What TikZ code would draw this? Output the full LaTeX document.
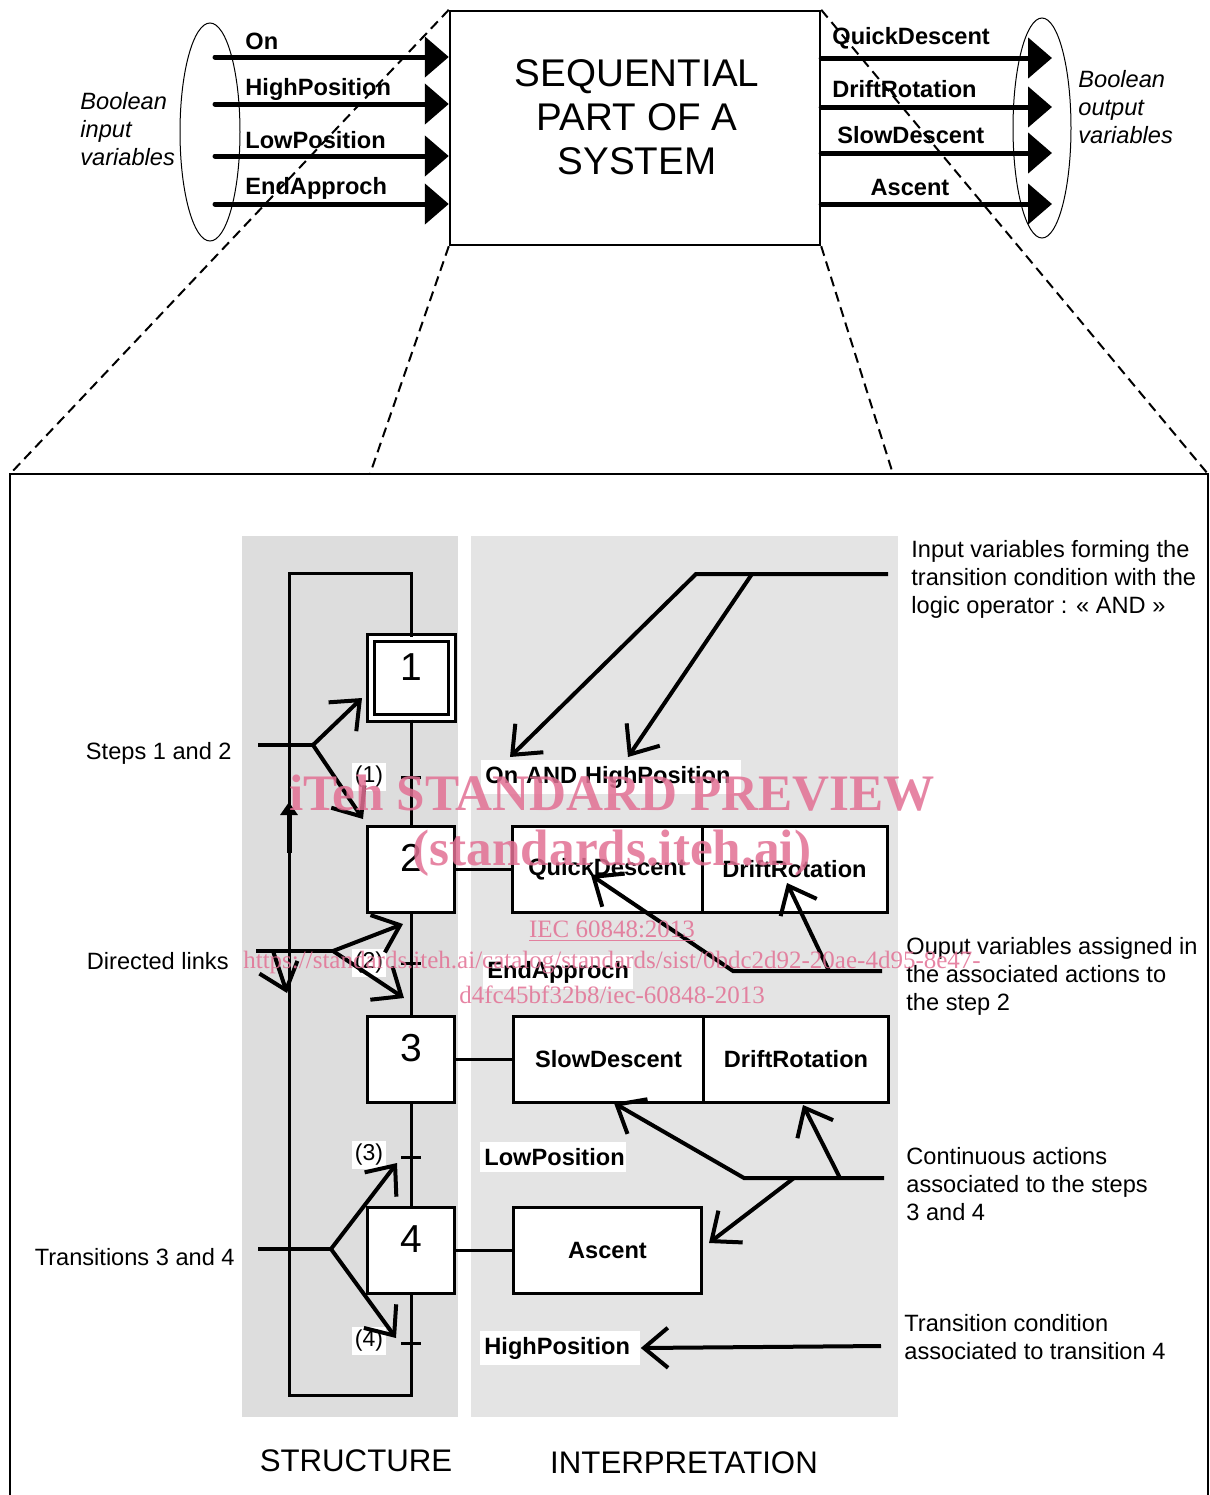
\documentclass[tikz,border=0pt]{standalone}
\usepackage{fontspec}
\setmainfont{Liberation Sans}
\newfontfamily\wmfont{Liberation Serif}
\usetikzlibrary{arrows.meta}
\definecolor{structgray}{RGB}{221,221,221}
\definecolor{interpgray}{RGB}{228,228,228}
\definecolor{wmpink}{RGB}{226,112,148}

\begin{document}
\begin{tikzpicture}[x=0.5pt,y=-0.5pt]
\tikzset{
  txt/.style={font=\fontsize{11.8}{14}\selectfont,inner sep=0pt},
  itxt/.style={font=\fontsize{11.8}{14}\selectfont\itshape,inner sep=0pt,align=left},
  btxt/.style={font=\fontsize{11.8}{14}\selectfont\bfseries,inner sep=0pt},
  bigtxt/.style={font=\fontsize{15.6}{18}\selectfont,inner sep=0pt},
  sysbox/.style={draw,line width=1.2pt,minimum width=185pt,minimum height=117pt,inner sep=0pt},
  systext/.style={font=\fontsize{19.3}{22}\selectfont,align=center,inner sep=0pt},
  stepnode/.style={draw,fill=white,line width=1.5pt,minimum width=43.5pt,minimum height=43pt,
    inner sep=0pt,font=\fontsize{19.5}{22}\selectfont,text depth=11pt},
  initstep/.style={stepnode,double,double distance=2pt,minimum width=40.5pt,minimum height=40pt},
  actnode/.style={draw,fill=white,line width=1.5pt,minimum height=43pt,inner sep=0pt,
    font=\fontsize{11.8}{14}\selectfont\bfseries},
  cond/.style={fill=white,anchor=west,inner xsep=2pt,inner ysep=3pt,align=left,
    font=\fontsize{11.8}{14}\selectfont\bfseries},
  tnum/.style={fill=white,inner sep=1.5pt,font=\fontsize{11.5}{13}\selectfont},
  link/.style={line width=1.5pt},
  bigarrow/.style={-{Triangle[length=12pt,width=20pt]},line width=2.5pt,line cap=round},
  pointer/.style={-{Straight Barb[length=12pt,width=20pt]},line width=2pt},
  pointerline/.style={line width=2pt},
  projline/.style={dash pattern=on 5pt off 3pt,line width=1pt},
  wm/.style={text=wmpink,text opacity=0.85,inner sep=0pt}
}
\useasboundingbox (0,0) rectangle (1210,1495);

% upper part: the system seen from outside
\node[sysbox] (n_sys) at (635,128) {};
\node[systext] (n_systxt) at (637,117) {SEQUENTIAL\\PART OF A\\SYSTEM};
\draw[line width=0.5pt] (210,132) ellipse [x radius=15pt,y radius=54.5pt];
\draw[line width=0.5pt] (1042,128) ellipse [x radius=14.5pt,y radius=55pt];
\node[itxt,anchor=west] (n_bin) at (80,129) {Boolean\\input\\variables};
\node[itxt,anchor=west] (n_bout) at (1078,107) {Boolean\\output\\variables};

\coordinate (c_i1) at (215,57);
\coordinate (c_i2) at (215,104);
\coordinate (c_i3) at (215,156);
\coordinate (c_i4) at (215,204);
\draw[bigarrow] (c_i1) -- (c_i1 -| n_sys.west);
\draw[bigarrow] (c_i2) -- (c_i2 -| n_sys.west);
\draw[bigarrow] (c_i3) -- (c_i3 -| n_sys.west);
\draw[bigarrow] (c_i4) -- (c_i4 -| n_sys.west);
\node[btxt,anchor=west] (n_on) at (245,41) {On};
\node[btxt,anchor=west] (n_hp) at (245,89) {HighPosition};
\node[btxt,anchor=west] (n_lp) at (245,140) {LowPosition};
\node[btxt,anchor=west] (n_ea) at (245,188) {EndApproch};

\coordinate (c_o1) at (1052,58);
\coordinate (c_o2) at (1052,107);
\coordinate (c_o3) at (1052,153);
\coordinate (c_o4) at (1052,204);
\draw[bigarrow] (c_o1 -| n_sys.east) -- (c_o1);
\draw[bigarrow] (c_o2 -| n_sys.east) -- (c_o2);
\draw[bigarrow] (c_o3 -| n_sys.east) -- (c_o3);
\draw[bigarrow] (c_o4 -| n_sys.east) -- (c_o4);
\node[btxt,anchor=west] (n_qd) at (832,38) {QuickDescent};
\node[btxt,anchor=west] (n_dr) at (832,89) {DriftRotation};
\node[btxt,anchor=west] (n_sd) at (837,135) {SlowDescent};
\node[btxt] (n_as) at (910,187) {Ascent};

% frame and projection lines
\coordinate (c_fl) at (10,474);
\coordinate (c_fr) at (1208,474);
\coordinate (c_fml) at (370,474);
\coordinate (c_fmr) at (893,474);
\draw[line width=1.2pt] (10,1500) -- (c_fl) -- (c_fr) -- (1208,1500);
\draw[projline] (n_sys.north west) -- (c_fl);
\draw[projline] (n_sys.south west) -- (c_fml);
\draw[projline] (n_sys.north east) -- (c_fr);
\draw[projline] (n_sys.south east) -- (c_fmr);

% panels
\fill[structgray] (242,536) rectangle (458,1417);
\fill[interpgray] (471,536) rectangle (898,1417);

% structure
\node[initstep] (n_s1) at (411,678) {1};
\node[stepnode] (n_s2) at (411,869) {2};
\node[stepnode] (n_s3) at (411,1059) {3};
\node[stepnode] (n_s4) at (411,1250) {4};
\coordinate (c_top) at (411,573);
\coordinate (c_topl) at (289,573);
\coordinate (c_botl) at (289,1395);
\coordinate (c_bot) at (411,1395);
\draw[link] (n_s1) -- (n_s2);
\draw[link] (n_s2) -- (n_s3);
\draw[link] (n_s3) -- (n_s4);
\draw[link] (n_s1.north) -- (c_top) -- (c_topl) -- (c_botl) -- (c_bot) -- (n_s4.south);
\coordinate (c_up0) at (289,853);
\coordinate (c_up1) at (289,802);
\draw[-{Triangle[length=6.5pt,width=8.5pt]},line width=2.5pt] (c_up0) -- (c_up1);

\coordinate (n_t1) at (411,777);
\coordinate (n_t2) at (411,963);
\coordinate (n_t3) at (411,1157);
\coordinate (n_t4) at (411,1343);
\draw[link] ([xshift=-5pt]n_t1) -- ([xshift=5pt]n_t1);
\draw[link] ([xshift=-5pt]n_t2) -- ([xshift=5pt]n_t2);
\draw[link] ([xshift=-5pt]n_t3) -- ([xshift=5pt]n_t3);
\draw[link] ([xshift=-5pt]n_t4) -- ([xshift=5pt]n_t4);
\node[tnum] (n_tl1) at (369,777) {(1)};
\node[tnum] (n_tl2) at (369,963) {(2)};
\node[tnum] (n_tl3) at (369,1155) {(3)};
\node[tnum] (n_tl4) at (369,1341) {(4)};

% interpretation
\node[actnode,minimum width=95pt] (n_a2q) at (607,869) {QuickDescent};
\node[actnode,minimum width=92.5pt] (n_a2d) at (794.5,869) {DriftRotation};
\node[actnode,minimum width=95pt] (n_a3s) at (608.5,1059) {SlowDescent};
\node[actnode,minimum width=92.5pt] (n_a3d) at (796,1059) {DriftRotation};
\node[actnode,minimum width=94pt] (n_a4) at (607.5,1250) {Ascent};
\draw[link] (n_s2.east) -- (n_a2q.west);
\draw[link] (n_s3.east) -- (n_a3s.west);
\draw[link] (n_s4.east) -- (n_a4.west);

\node[cond,text width=126pt] (n_c1) at (481,777) {On AND HighPosition};
\node[cond,text width=71pt] (n_c2) at (483,972) {EndApproch};
\node[cond,text width=69pt] (n_c3) at (480,1157) {LowPosition};
\node[cond,text width=76pt] (n_c4) at (480,1348) {HighPosition};

% left comments
\node[txt,anchor=east] (n_steps) at (232,753) {Steps 1 and 2};
\node[txt,anchor=east] (n_links) at (229,961) {Directed links};
\node[txt,anchor=east] (n_trans) at (235,1257) {Transitions 3 and 4};
\coordinate (c_st0) at (258,745);
\coordinate (c_st1) at (313,745);
\coordinate (c_st2) at (362,698);
\coordinate (c_st3) at (363,819);
\draw[pointerline] (c_st0) -- (c_st1);
\draw[pointer] (c_st1) -- (c_st2);
\draw[pointer] (c_st1) -- (c_st3);
\coordinate (c_dl0) at (256,951);
\coordinate (c_dl1) at (333,951);
\coordinate (c_dl2) at (403,924);
\coordinate (c_dl3) at (404,998);
\coordinate (c_dl4) at (273,951);
\coordinate (c_dl5) at (287,993);
\draw[pointerline] (c_dl0) -- (c_dl1);
\draw[pointer] (c_dl1) -- (c_dl2);
\draw[pointer] (c_dl1) -- (c_dl3);
\draw[pointer] (c_dl4) -- (c_dl5);
\coordinate (c_tr0) at (258,1249);
\coordinate (c_tr1) at (331,1249);
\coordinate (c_tr2) at (397,1163);
\coordinate (c_tr3) at (396,1338);
\draw[pointerline] (c_tr0) -- (c_tr1);
\draw[pointer] (c_tr1) -- (c_tr2);
\draw[pointer] (c_tr1) -- (c_tr3);

% right comments
\node[txt,anchor=west,align=left] (n_ann1) at (911,579) {Input variables forming the\\transition condition with the\\logic operator : « AND »};
\node[txt,anchor=west,align=left] (n_ann2) at (906,976) {Ouput variables assigned in\\the associated actions to\\the step 2};
\node[txt,anchor=west,align=left] (n_ann3) at (906,1184) {Continuous actions\\associated to the steps\\3 and 4};
\node[txt,anchor=west,align=left] (n_ann4) at (904,1337) {Transition condition\\associated to transition 4};
\coordinate (c_in0) at (888,574);
\coordinate (c_in1) at (696,574);
\coordinate (c_in2) at (752,574);
\coordinate (c_in3) at (510,757);
\coordinate (c_in4) at (628,757);
\draw[pointer] (c_in0) -- (c_in1) -- (c_in3);
\draw[pointer] (c_in2) -- (c_in4);
\coordinate (c_out0) at (882,971);
\coordinate (c_out1) at (733,971);
\coordinate (c_out2) at (829,971);
\coordinate (c_out3) at (591,875);
\coordinate (c_out4) at (787,883);
\draw[pointer] (c_out0) -- (c_out1) -- (c_out3);
\draw[pointer] (c_out2) -- (c_out4);
\coordinate (c_ca0) at (884,1178);
\coordinate (c_ca1) at (744,1178);
\coordinate (c_ca2) at (840,1178);
\coordinate (c_ca3) at (794,1178);
\coordinate (c_ca4) at (614,1103);
\coordinate (c_ca5) at (803,1105);
\coordinate (c_ca6) at (709,1243);
\draw[pointer] (c_ca0) -- (c_ca1) -- (c_ca4);
\draw[pointer] (c_ca2) -- (c_ca5);
\draw[pointer] (c_ca3) -- (c_ca6);
\coordinate (c_tc0) at (881,1346);
\draw[pointer] (c_tc0) -- (n_c4.east);

\node[bigtxt] (n_struct) at (356,1461) {STRUCTURE};
\node[bigtxt] (n_interp) at (684,1463) {INTERPRETATION};

% watermark
\node[wm,font=\wmfont\fontsize{25.6}{28}\selectfont\bfseries] (n_wm1) at (612,793) {iTeh STANDARD PREVIEW};
\node[wm,font=\wmfont\fontsize{25.6}{28}\selectfont\bfseries] (n_wm2) at (612,853) {(standards.iteh.ai)};
\node[wm,font=\wmfont\fontsize{12.5}{14}\selectfont] (n_wm3) at (612,931) {\underline{IEC 60848:2013}};
\node[wm,font=\wmfont\fontsize{12.5}{14}\selectfont] (n_wm4) at (612,963) {https://standards.iteh.ai/catalog/standards/sist/0bdc2d92-20ae-4d95-8e47-};
\node[wm,font=\wmfont\fontsize{12.5}{14}\selectfont] (n_wm5) at (612,995) {d4fc45bf32b8/iec-60848-2013};
\end{tikzpicture}
\end{document}
